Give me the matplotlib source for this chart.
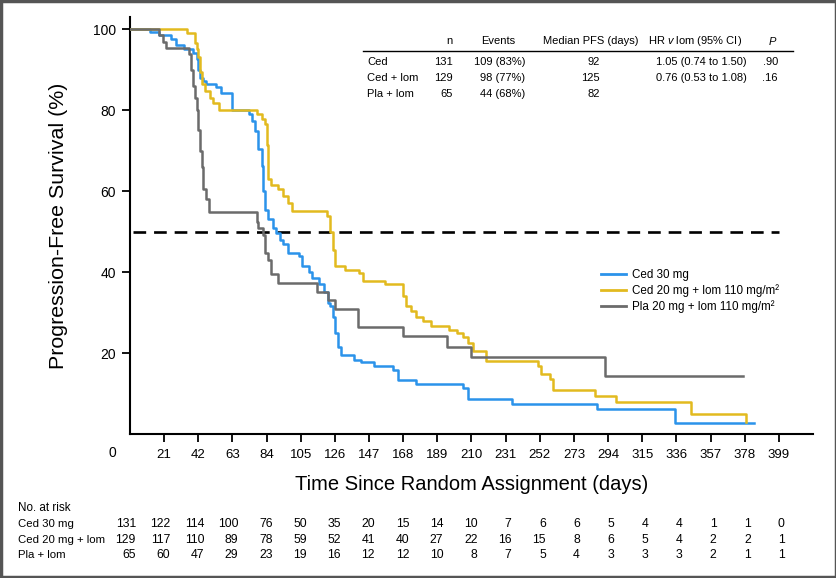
import matplotlib
matplotlib.use("Agg")
import matplotlib.pyplot as plt
from matplotlib.lines import Line2D
from matplotlib.patches import Rectangle

plt.rcParams['font.family'] = ['Liberation Sans', 'DejaVu Sans']
plt.rcParams['mathtext.fontset'] = 'custom'
plt.rcParams['mathtext.it'] = 'Liberation Sans:italic'
plt.rcParams['mathtext.rm'] = 'Liberation Sans'

# Kaplan-Meier step data (days, % progression-free)
ced_t = [0, 12, 18, 25, 28, 33, 39, 41, 42, 43, 45, 47, 53, 56, 63, 73, 75, 77, 79, 81,
         82, 83, 85, 88, 90, 92, 94, 97, 104, 106, 110, 112, 116, 119, 122, 123, 125,
         126, 128, 130, 138, 142, 150, 162, 165, 176, 205, 208, 235, 287, 335, 384]
ced_s = [100, 99.2, 98.5, 97.5, 96.0, 95.0, 94.0, 92.6, 90.0, 88.0, 87.2, 86.4, 85.8,
         84.2, 80.0, 79.0, 77.3, 74.8, 70.3, 66.2, 60.0, 55.4, 53.0, 51.0, 49.7, 48.0,
         47.0, 44.8, 44.0, 41.4, 40.0, 38.6, 37.0, 35.0, 32.4, 31.5, 29.0, 25.0, 21.6,
         19.6, 18.3, 17.7, 16.9, 15.8, 13.4, 12.4, 11.4, 8.7, 7.3, 6.1, 2.8, 2.8]

cedlom_t = [0, 35, 40, 41, 42, 43, 44, 46, 49, 51, 55, 78, 81, 83, 84, 85, 87, 91, 94,
            97, 99.5, 121, 123, 125, 126, 128, 132, 141, 143, 157, 168, 170, 173, 176,
            180, 185, 196, 201, 205, 208, 211, 219, 251, 253, 258, 260, 286, 299, 345, 379]
cedlom_s = [100, 99.0, 96.7, 95.0, 93.0, 89.3, 86.4, 84.7, 83.0, 81.8, 80.0, 79.0, 77.7,
            76.5, 71.5, 62.9, 61.4, 60.4, 58.7, 57.1, 55.0, 53.8, 50.0, 45.5, 41.4, 41.4,
            40.6, 39.8, 37.9, 37.1, 34.0, 31.5, 30.3, 29.0, 27.8, 26.6, 25.7, 24.9, 23.9,
            22.4, 20.5, 18.1, 16.7, 14.9, 13.5, 10.9, 9.4, 7.8, 5.0, 3.0]

pla_t = [0, 18, 20, 22, 36, 37.5, 39, 40, 41, 42, 43, 44, 45, 47, 48.5, 78, 79, 82, 83,
         85, 87, 91, 115, 122, 126, 140, 168, 195, 210, 292, 377]
pla_s = [100, 98.5, 96.9, 95.4, 93.8, 90.0, 86.0, 83.0, 80.0, 75.0, 70.0, 66.0, 60.4,
         58.0, 54.8, 52.3, 50.8, 49.2, 44.6, 43.0, 39.4, 37.3, 35.0, 33.2, 30.9, 26.4,
         24.1, 21.6, 19.1, 14.4, 14.4]

labels = ['Ced 30 mg', 'Ced 20 mg + lom 110 mg/m²', 'Pla 20 mg + lom 110 mg/m²']
colors = ['#2b93ea', '#e2ba1f', '#6b6b6b']

x_ticks = list(range(21, 400, 21))
risk_days = list(range(0, 400, 21))
risk_names = ['Ced 30 mg', 'Ced 20 mg + lom', 'Pla + lom']
risk_ced = [131, 122, 114, 100, 76, 50, 35, 20, 15, 14, 10, 7, 6, 6, 5, 4, 4, 1, 1, 0]
risk_cedlom = [129, 117, 110, 89, 78, 59, 52, 41, 40, 27, 22, 16, 15, 8, 6, 5, 4, 2, 2, 1]
risk_pla = [65, 60, 47, 29, 23, 19, 16, 12, 12, 10, 8, 7, 5, 4, 3, 3, 3, 2, 1, 1]

tbl_header = ['n', 'Events', 'Median PFS (days)', 'HR $\\it{v}$ lom (95% CI)', '$\\it{P}$']
tbl_groups = ['Ced', 'Ced + lom', 'Pla + lom']
tbl_n = ['131', '129', '65']
tbl_events = ['109 (83%)', '98 (77%)', '44 (68%)']
tbl_median = ['92', '125', '82']
tbl_hr = ['1.05 (0.74 to 1.50)', '0.76 (0.53 to 1.08)', '']
tbl_p = ['.90', '.16', '']

W, H = 837, 578
fig = plt.figure(figsize=(W / 100, H / 100), dpi=100)


def fx(x):
    return x / W


def fy(y):
    return 1 - y / H


ax = fig.add_axes([fx(130), fy(434), fx(813 - 130), (434 - 17) / H])

for t, s, c, lab in zip([ced_t, cedlom_t, pla_t], [ced_s, cedlom_s, pla_s], colors, labels):
    ax.step(t, s, where='post', color=c, lw=1.8, label=lab, zorder=3)

ax.plot([2, 399], [50, 50], color='black', lw=1.9, ls=(0, (4.8, 3)), zorder=2)

ax.set_xlim(0, 420)
ax.set_ylim(0, 103)
ax.set_xticks(x_ticks)
ax.set_yticks([20, 40, 60, 80, 100])
ax.tick_params(direction='out', length=6, width=1.3, labelsize=10, pad=4)
ax.tick_params(axis='x', pad=5, labelsize=9.5)
for sp in ['top', 'right']:
    ax.spines[sp].set_visible(False)
for sp in ['left', 'bottom']:
    ax.spines[sp].set_linewidth(1.5)

ax.annotate('0', xy=(0, 0), xycoords='data', xytext=(-13, -14), textcoords='offset points',
            ha='center', va='center', fontsize=10)

ax.set_xlabel('Time Since Random Assignment (days)', fontsize=14.5, labelpad=10)
ax.set_ylabel('Progression-Free Survival (%)', fontsize=15.4, labelpad=18)

handles = [Line2D([0], [0], color=c, lw=2) for c in colors]
ax.legend(handles, labels, loc='upper left',
          bbox_to_anchor=((596 - 130) / (813 - 130), (434 - 264) / (434 - 17)),
          frameon=False, fontsize=8.4, handlelength=2.2, handletextpad=0.5,
          labelspacing=0.3, borderaxespad=0)

# summary table
fs_t = 8
hdr_x = [449, 498, 591, 695, 773]
for txt, x in zip(tbl_header, hdr_x):
    fig.text(fx(x), fy(41), txt, ha='center', va='center', fontsize=fs_t)
fig.add_artist(Line2D([fx(363), fx(793)], [fy(50.5), fy(50.5)], color='black', lw=1.0))
for i, yy in enumerate([62, 78, 94]):
    fig.text(fx(367), fy(yy), tbl_groups[i], ha='left', va='center', fontsize=fs_t)
    fig.text(fx(453), fy(yy), tbl_n[i], ha='right', va='center', fontsize=fs_t)
    fig.text(fx(525), fy(yy), tbl_events[i], ha='right', va='center', fontsize=fs_t)
    fig.text(fx(600), fy(yy), tbl_median[i], ha='right', va='center', fontsize=fs_t)
    fig.text(fx(747), fy(yy), tbl_hr[i], ha='right', va='center', fontsize=fs_t)
    fig.text(fx(778), fy(yy), tbl_p[i], ha='right', va='center', fontsize=fs_t)

# numbers at risk
fs_r = 8.8
fig.text(fx(18), fy(508), 'No. at risk', ha='left', va='center', fontsize=8.4)
for name, vals, yy in zip(risk_names, [risk_ced, risk_cedlom, risk_pla], [524, 540, 555]):
    fig.text(fx(18), fy(yy), name, ha='left', va='center', fontsize=8.2)
    for d, v in zip(risk_days, vals):
        xd = ax.transData.transform((d, 0))[0] + 6
        fig.text(xd / W, fy(yy), str(v), ha='right', va='center', fontsize=fs_r)

fig.add_artist(Rectangle((0.001, 0.001), 0.998, 0.997, transform=fig.transFigure,
                         fill=False, edgecolor='#555555', lw=2.5))

fig.savefig('out.png', dpi=100)
